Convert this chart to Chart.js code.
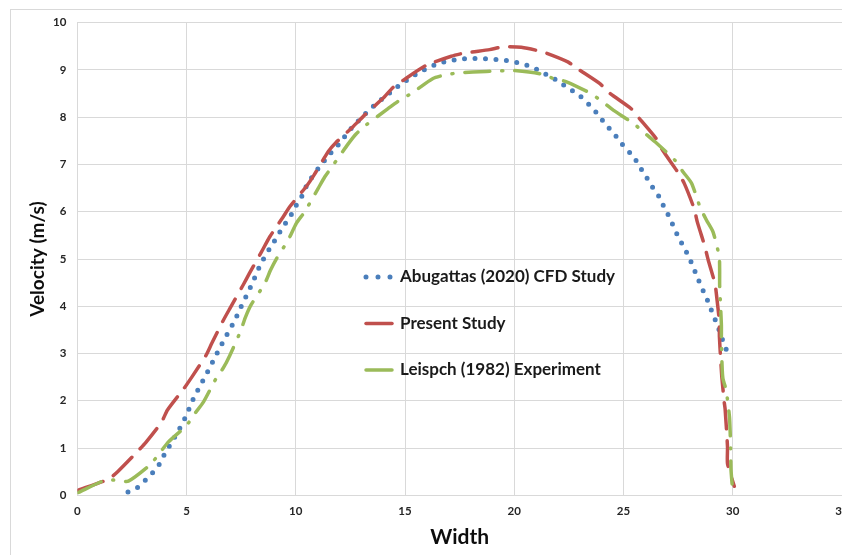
<!DOCTYPE html>
<html>
<head>
<meta charset="utf-8">
<script src="https://cdn.jsdelivr.net/npm/chart.js@4"></script>
<style>
  html, body { margin: 0; padding: 0; background: #ffffff; overflow: hidden; }
  #wrap { width: 842px; height: 555px; overflow: hidden; position: relative; }
  #holder { width: 860px; height: 555px; position: absolute; left: 0; top: 0; }
</style>
</head>
<body>
<div id="wrap"><div id="holder"><canvas id="c"></canvas></div></div>
<script>
// ---- data ----
const seriesNames = ["Abugattas (2020) CFD Study", "Present Study", "Leispch (1982) Experiment"];

const abugattasX = [2.32,2.77,3.12,3.47,3.76,3.99,4.25,4.51,4.75,4.97,5.16,5.36,5.59,5.82,6.05,6.28,6.50,6.73,6.98,7.21,7.41,7.62,7.84,8.05,8.25,8.46,8.71,8.97,9.23,9.49,9.77,10.0,10.26,10.46,10.72,11.02,11.33,11.63,11.97,12.29,12.59,12.92,13.26,13.65,14.02,14.42,14.80,15.24,15.63,16.09,16.54,17.03,17.5,18.0,18.49,18.98,19.48,19.99,20.46,20.91,21.36,21.77,22.2,22.63,23.03,23.41,23.75,24.06,24.39,24.71,25.01,25.32,25.63,25.88,26.16,26.42,26.68,26.88,27.11,27.31,27.52,27.76,27.99,28.17,28.37,28.55,28.77,28.95,29.13,29.32,29.47,29.65,29.85];
const abugattasY = [0.07,0.17,0.32,0.49,0.66,0.87,1.07,1.27,1.47,1.67,1.88,2.09,2.29,2.49,2.69,2.90,3.10,3.30,3.51,3.70,3.91,4.11,4.32,4.53,4.75,4.95,5.15,5.34,5.54,5.73,5.92,6.12,6.31,6.52,6.72,6.91,7.09,7.26,7.43,7.62,7.79,7.95,8.11,8.27,8.41,8.56,8.70,8.83,8.95,9.05,9.14,9.19,9.23,9.24,9.24,9.23,9.21,9.17,9.12,9.04,8.93,8.83,8.70,8.57,8.44,8.27,8.10,7.92,7.74,7.57,7.39,7.23,7.05,6.85,6.65,6.45,6.28,6.07,5.88,5.66,5.46,5.25,5.05,4.85,4.63,4.42,4.21,4.00,3.79,3.57,3.37,3.14,2.93];

const presentX = [0.05,1.42,1.87,2.74,3.14,3.86,4.12,4.88,5.24,5.89,6.15,6.68,6.98,7.59,7.87,8.43,8.81,9.42,9.73,10.49,10.84,11.48,11.83,12.62,13.16,13.99,14.45,14.91,15.98,17.12,17.74,18.87,19.48,20.32,21.31,22.45,22.95,23.92,24.36,25.35,25.73,26.49,26.79,27.48,27.78,28.23,28.38,28.72,28.87,29.19,29.27,29.38,29.39,29.45,29.50,29.61,29.65,29.76,29.76,30.07];
const presentY = [0.11,0.34,0.51,0.92,1.12,1.55,1.80,2.26,2.50,2.96,3.21,3.70,3.95,4.45,4.69,5.15,5.47,5.89,6.11,6.54,6.78,7.27,7.46,7.80,8.05,8.40,8.63,8.78,9.10,9.29,9.36,9.43,9.49,9.48,9.38,9.17,9.01,8.71,8.51,8.18,7.97,7.55,7.30,6.84,6.60,6.07,5.78,5.27,4.99,4.47,4.18,3.70,3.35,2.86,2.50,1.97,1.83,1.02,0.67,0.19];

const leispchX = [0.05,1.27,1.77,2.34,3.32,3.75,4.17,5.0,5.38,5.77,6.35,6.69,6.98,7.48,7.68,7.94,8.58,8.84,9.12,9.65,10.03,10.41,11.02,11.33,11.67,12.39,12.77,13.23,14.22,14.75,15.28,16.28,16.89,17.5,18.72,19.34,19.95,21.18,21.79,22.39,23.47,24.0,24.53,25.45,25.98,26.52,27.35,27.73,28.12,28.5,28.80,29.10,29.38,29.40,29.40,29.45,29.48,29.48,29.51,29.55,29.70,29.85,29.88,29.90,29.92,29.97];
const leispchY = [0.06,0.32,0.32,0.30,0.64,0.88,1.13,1.48,1.73,1.97,2.47,2.70,2.96,3.48,3.75,4.02,4.48,4.76,5.01,5.40,5.76,6.0,6.49,6.74,6.96,7.43,7.65,7.84,8.18,8.36,8.50,8.82,8.90,8.94,8.97,8.98,8.99,8.92,8.82,8.75,8.51,8.34,8.15,7.87,7.66,7.45,7.09,6.84,6.60,6.10,5.82,5.57,5.05,4.75,4.44,3.92,3.60,3.32,2.75,2.47,2.22,1.66,1.36,1.06,0.54,0.24];

const xTicks = [0, 5, 10, 15, 20, 25, 30, 35];
const yTicks = [0, 1, 2, 3, 4, 5, 6, 7, 8, 9, 10];
const xTitle = "Width";
const yTitle = "Velocity (m/s)";

function pts(xs, ys) { return xs.map((x, i) => ({ x: x, y: ys[i] })); }

const FONT = "Lato, 'Open Sans', sans-serif";
const BLUE = "#4A7EBB", RED = "#C0504D", GREEN = "#9BBB59";

const frame = {
  id: 'frame',
  beforeDraw(chart) {
    const ctx = chart.ctx;
    ctx.save();
    ctx.fillStyle = '#ffffff';
    ctx.fillRect(0, 0, chart.width, chart.height);
    ctx.strokeStyle = '#d9d9d9';
    ctx.lineWidth = 1;
    ctx.strokeRect(10.5, 9.5, chart.width + 20, chart.height + 20);
    ctx.restore();
  }
};

const innerLegend = {
  id: 'innerLegend',
  afterDatasetsDraw(chart) {
    const ctx = chart.ctx;
    const rows = [277, 323.5, 370];
    const mx0 = 365, mx1 = 393, tx = 400;
    ctx.save();
    chart.data.datasets.forEach((ds, i) => {
      const y = rows[i];
      ctx.strokeStyle = ds.borderColor;
      ctx.lineWidth = ds.borderWidth;
      ctx.lineCap = 'round';
      ctx.beginPath();
      if (i === 0) {
        ctx.setLineDash([0, 12]);
        ctx.moveTo(mx0 + 1, y); ctx.lineTo(mx1, y);
      } else {
        ctx.setLineDash([]);
        ctx.moveTo(mx0 + 1, y); ctx.lineTo(mx1 - 1, y);
      }
      ctx.stroke();
      ctx.setLineDash([]);
      ctx.fillStyle = '#1a1a1a';
      ctx.font = "bold 17px " + FONT;
      ctx.textBaseline = 'middle';
      ctx.textAlign = 'left';
      ctx.fillText(ds.label, tx, y);
    });
    ctx.restore();
  }
};

new Chart(document.getElementById('c'), {
  type: 'scatter',
  data: {
    datasets: [
      {
        label: seriesNames[0], data: pts(abugattasX, abugattasY), showLine: true,
        borderColor: BLUE, backgroundColor: BLUE, borderWidth: 5,
        borderDash: [0, 10.5], borderCapStyle: 'round', pointRadius: 0, tension: 0.2, order: 3
      },
      {
        label: seriesNames[1], data: pts(presentX, presentY), showLine: true,
        borderColor: RED, backgroundColor: RED, borderWidth: 3.5,
        borderDash: [26, 12], borderCapStyle: 'round', pointRadius: 0, tension: 0.2, order: 2
      },
      {
        label: seriesNames[2], data: pts(leispchX, leispchY), showLine: true,
        borderColor: GREEN, backgroundColor: GREEN, borderWidth: 3.5,
        borderDash: [25, 12, 1, 12], borderCapStyle: 'round', pointRadius: 0, tension: 0.2, order: 1
      }
    ]
  },
  options: {
    responsive: true,
    maintainAspectRatio: false,
    animation: false,
    layout: { padding: { left: 0, right: 18, top: 22.7, bottom: 0 } },
    plugins: { legend: { display: false }, tooltip: { enabled: false } },
    scales: {
      x: {
        type: 'linear', min: 0, max: 35,
        afterBuildTicks(scale) { scale.ticks = xTicks.map(v => ({ value: v })); },
        afterFit(scale) { scale.height = 59.7; },
        grid: { color: '#d9d9d9', drawTicks: false, lineWidth: 1 },
        border: { color: '#d9d9d9', width: 1 },
        ticks: { padding: 9, color: '#262626', font: { family: FONT, size: 11.5, weight: 'bold' }, maxRotation: 0 },
        title: { display: true, text: xTitle, color: '#0d0d0d', font: { family: FONT, size: 21, weight: 'bold' }, padding: { top: 0, bottom: 5 } }
      },
      y: {
        type: 'linear', min: 0, max: 10,
        afterBuildTicks(scale) { scale.ticks = yTicks.map(v => ({ value: v })); },
        afterFit(scale) { scale.width = 77.3; },
        grid: { color: '#d9d9d9', drawTicks: false, lineWidth: 1 },
        border: { color: '#d9d9d9', width: 1 },
        ticks: { padding: 11, color: '#262626', font: { family: FONT, size: 11.5, weight: 'bold' } },
        title: { display: true, text: yTitle, color: '#0d0d0d', font: { family: FONT, size: 19, weight: 'bold' }, padding: { top: 26, bottom: 0 } }
      }
    }
  },
  plugins: [frame, innerLegend]
});
</script>
</body>
</html>
